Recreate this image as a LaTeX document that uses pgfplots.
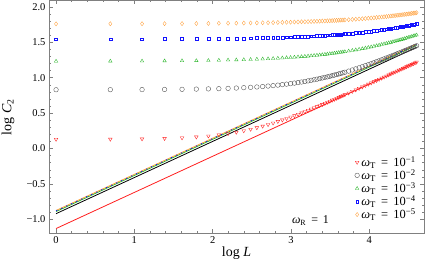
\documentclass[border=0pt]{standalone}
\usepackage{fontspec}
\setmainfont{Liberation Serif}
\usepackage{pgfplots}
\pgfplotsset{compat=1.18}
\usepackage{pgfplotstable}
\definecolor{cred}{RGB}{255,30,30}
\definecolor{cgreen}{RGB}{40,180,40}
\definecolor{cblue}{RGB}{20,20,255}
\definecolor{corange}{RGB}{255,160,60}
\pgfplotstableread{
x r k g b o
0.0000 0.130 0.830 1.233 1.543 1.760
0.6931 0.132 0.831 1.234 1.544 1.761
1.0986 0.136 0.832 1.235 1.545 1.762
1.3863 0.142 0.834 1.237 1.546 1.763
1.6094 0.151 0.836 1.239 1.547 1.764
1.7918 0.163 0.839 1.241 1.549 1.765
1.9459 0.177 0.842 1.243 1.550 1.766
2.0794 0.193 0.845 1.246 1.551 1.768
2.1972 0.211 0.849 1.249 1.553 1.769
2.3026 0.230 0.854 1.251 1.555 1.770
2.3979 0.251 0.859 1.254 1.556 1.771
2.4849 0.272 0.864 1.257 1.558 1.773
2.5649 0.294 0.869 1.261 1.560 1.774
2.6391 0.316 0.875 1.264 1.561 1.775
2.7081 0.338 0.882 1.267 1.563 1.777
2.7726 0.360 0.888 1.271 1.565 1.778
2.8332 0.382 0.895 1.274 1.567 1.780
2.8904 0.403 0.902 1.278 1.569 1.781
2.9444 0.424 0.909 1.282 1.571 1.783
2.9957 0.444 0.916 1.285 1.573 1.784
3.0445 0.464 0.924 1.289 1.575 1.786
3.0910 0.484 0.931 1.293 1.577 1.787
3.1355 0.503 0.939 1.297 1.579 1.789
3.1781 0.521 0.947 1.301 1.581 1.790
3.2189 0.539 0.955 1.305 1.583 1.792
3.2581 0.557 0.963 1.309 1.585 1.793
3.2958 0.574 0.971 1.313 1.587 1.795
3.3322 0.591 0.979 1.317 1.590 1.796
3.3673 0.607 0.988 1.321 1.592 1.798
3.4012 0.622 0.996 1.325 1.594 1.800
3.4340 0.638 1.004 1.329 1.596 1.801
3.4657 0.653 1.012 1.333 1.599 1.803
3.4965 0.667 1.020 1.338 1.601 1.804
3.5264 0.682 1.029 1.342 1.603 1.806
3.5553 0.695 1.037 1.346 1.605 1.808
3.5835 0.709 1.045 1.350 1.608 1.809
3.6109 0.722 1.053 1.355 1.610 1.811
3.6376 0.735 1.061 1.359 1.612 1.813
3.6636 0.748 1.069 1.363 1.615 1.814
3.6889 0.760 1.077 1.367 1.617 1.816
3.7377 0.784 1.093 1.376 1.622 1.819
3.7842 0.807 1.109 1.384 1.626 1.823
3.8286 0.829 1.125 1.393 1.631 1.826
3.8712 0.850 1.140 1.401 1.636 1.829
3.9120 0.870 1.155 1.410 1.641 1.833
3.9512 0.890 1.170 1.418 1.646 1.836
3.9890 0.909 1.184 1.427 1.650 1.840
4.0254 0.927 1.198 1.435 1.655 1.843
4.0604 0.944 1.212 1.443 1.660 1.846
4.0943 0.961 1.226 1.451 1.665 1.850
4.1271 0.978 1.239 1.460 1.670 1.853
4.1589 0.994 1.252 1.468 1.675 1.857
4.1897 1.009 1.265 1.476 1.679 1.860
4.2195 1.024 1.278 1.484 1.684 1.863
4.2485 1.039 1.290 1.492 1.689 1.867
4.2767 1.053 1.302 1.499 1.694 1.870
4.3041 1.067 1.314 1.507 1.699 1.874
4.3307 1.080 1.326 1.515 1.704 1.877
4.3567 1.094 1.337 1.523 1.708 1.881
4.3820 1.106 1.348 1.530 1.713 1.884
4.4067 1.119 1.359 1.538 1.718 1.887
4.4308 1.131 1.370 1.545 1.723 1.891
4.4543 1.143 1.381 1.552 1.727 1.894
4.4773 1.155 1.391 1.560 1.732 1.897
4.4998 1.166 1.402 1.567 1.737 1.901
4.5218 1.177 1.412 1.574 1.741 1.904
4.5433 1.188 1.422 1.581 1.746 1.908
4.5643 1.199 1.431 1.588 1.751 1.911
4.5850 1.209 1.441 1.595 1.755 1.914
4.6052 1.220 1.451 1.602 1.760 1.918
}\data
\begin{document}
\begin{tikzpicture}
\begin{axis}[
  at={(0,0)}, anchor=south west, scale only axis,
  width=375bp, height=233bp,
  xmin=-0.09, xmax=4.70, ymin=-1.2, ymax=2.09,
  xtick={0,1,2,3,4}, xticklabels={0,1,2,3,4},
  ytick={-1,-0.5,0,0.5,1,1.5,2},
  yticklabels={−1.0,−0.5,0.0,0.5,1.0,1.5,2.0},
  minor x tick num=4, minor y tick num=4,
  tick align=inside,
  major tick length=4bp, minor tick length=2bp,
  axis line style={black!50, line width=0.6bp},
  every tick/.style={black!50, line width=0.5bp},
  tick label style={font=\fontsize{10.5}{12}\selectfont},
  xlabel={log \textit{L}},
  ylabel={log \textit{C}\textsubscript{2}},
  label style={font=\fontsize{14}{16}\selectfont},
  xlabel style={at={(axis description cs:0.5,-0.086)}, anchor=center},
  ylabel style={at={(axis description cs:-0.109,0.5)}, anchor=center},
  legend style={at={(axis description cs:0.985,0.045)}, anchor=south east,
    draw=none, fill=none, font=\fontsize{12.5}{13}\selectfont,
    row sep=-2.5bp, inner sep=0.5bp,
    nodes={inner xsep=2bp}},
  legend cell align=left,
]
\addplot[only marks, mark=triangle, mark size=2.1bp,
  mark options={rotate=180, draw=cred, line width=0.35bp}] table[x=x,y=r]{\data};
\addlegendentry{\textit{ω}\textsubscript{T}\, =\, 10\textsuperscript{−1}}
\addplot[only marks, mark=o, mark size=2.3bp,
  mark options={draw=black!70, line width=0.35bp}] table[x=x,y=k]{\data};
\addlegendentry{\textit{ω}\textsubscript{T}\, =\, 10\textsuperscript{−2}}
\addplot[only marks, mark=triangle, mark size=2.0bp,
  mark options={draw=cgreen, line width=0.35bp}] table[x=x,y=g]{\data};
\addlegendentry{\textit{ω}\textsubscript{T}\, =\, 10\textsuperscript{−3}}
\addplot[only marks, mark=square, mark size=1.4bp,
  mark options={draw=cblue, line width=0.35bp}] table[x=x,y=b]{\data};
\addlegendentry{\textit{ω}\textsubscript{T}\, =\, 10\textsuperscript{−4}}
\addplot[only marks, mark=diamond, mark size=2.1bp,
  mark options={draw=corange, line width=0.35bp}] table[x=x,y=o]{\data};
\addlegendentry{\textit{ω}\textsubscript{T}\, =\, 10\textsuperscript{−5}}
\addplot[cred, line width=0.8bp, forget plot] coordinates {(0,-1.13) (4.6052,1.2187)};
\addplot[black, line width=0.8bp, forget plot] coordinates {(0,-0.92) (4.6052,1.4287)};
\addplot[cgreen, line width=0.8bp, forget plot] coordinates {(0,-0.89) (4.6052,1.4587)};
\addplot[corange, line width=0.8bp, forget plot] coordinates {(0,-0.875) (4.6052,1.4737)};
\addplot[cblue, line width=0.8bp, dash pattern=on 1.5bp off 4bp, forget plot] coordinates {(0,-0.88) (4.6052,1.4687)};
\node[font=\fontsize{12}{13}\selectfont] at (axis cs:3.25,-1.015) {\textit{ω}\textsubscript{R}\, =\, 1};
\end{axis}
\pgfresetboundingbox
\path[use as bounding box] (-49bp,-37.5bp) rectangle (376bp,233.5bp);
\end{tikzpicture}
\end{document}
